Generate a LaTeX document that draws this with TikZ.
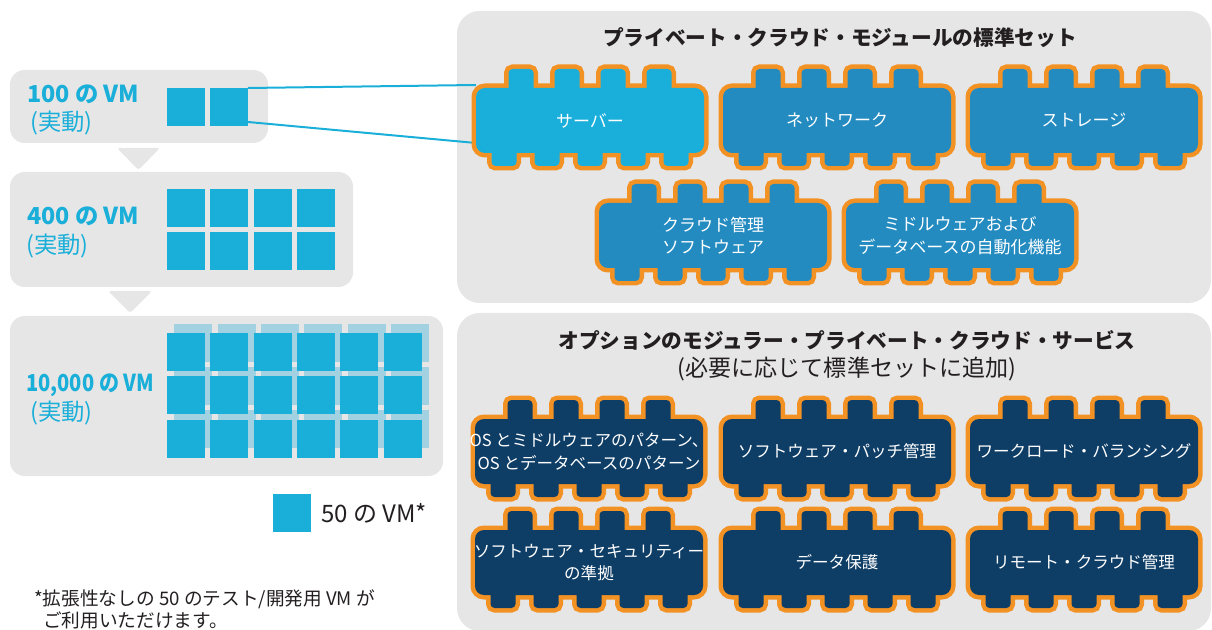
\documentclass[tikz,border=0pt]{standalone}
\usepackage{fontspec}
\usepackage{graphicx}
\setmainfont{Noto Sans CJK JP}
\definecolor{panel}{HTML}{E6E6E6}
\definecolor{vmc}{HTML}{1AAFD9}
\definecolor{vmback}{HTML}{A2D1E2}
\definecolor{orng}{HTML}{F39224}
\definecolor{srvc}{HTML}{1AAFDA}
\definecolor{stdc}{HTML}{238BC0}
\definecolor{optc}{HTML}{0E3D66}
\definecolor{txtd}{HTML}{231F20}
\newcommand\puzzlepath{[rounded corners=6.75pt] (4,4) rectangle (232,69)
 [rounded corners=3pt]
 (36.5,-15) rectangle (61.5,10) (82.5,-15) rectangle (107.5,10)
 (128.5,-15) rectangle (153.5,10) (174.5,-15) rectangle (199.5,10)
 (19.5,63) rectangle (44.5,82) (62.5,63) rectangle (87.5,82)
 (105.5,63) rectangle (130.5,82) (148.5,63) rectangle (173.5,82)
 (191.5,63) rectangle (216.5,82)}
\newcommand\puzzle[3]{%
 \begin{scope}[shift={(#1,#2)}]
  \path[draw=orng,fill=orng,line width=6.75pt] \puzzlepath;
  \path[fill=#3] \puzzlepath;
 \end{scope}}
\tikzset{
 vmsq/.style={fill=vmc, minimum size=28.5pt, inner sep=0pt, outer sep=0pt, anchor=north west},
 vmlab/.style={text=vmc, font=\fontsize{17.5}{20}\selectfont\bfseries, anchor=base west, inner sep=0pt},
 vmsub/.style={text=vmc, font=\fontsize{17.5}{20}\selectfont, anchor=base west, inner sep=0pt},
 ptext/.style={text=white, align=center, font=\fontsize{12.75}{17}\selectfont, inner sep=0pt},
 otext/.style={text=white, align=center, font=\fontsize{12.4}{17}\selectfont, inner sep=0pt},
 ttl/.style={text=txtd, font=\fontsize{15.5}{19}\selectfont\bfseries, inner sep=0pt},
 note/.style={text=txtd, font=\fontsize{14}{17}\selectfont, anchor=base west, inner sep=0pt},
 link/.style={draw=vmc, line width=1.5pt}
}
\begin{document}
\begin{tikzpicture}[x=0.75pt,y=-0.75pt]
\useasboundingbox (0,0) rectangle (1212,630);
% right panels
\fill[panel, rounded corners=17pt] (457,11) rectangle (1211,303);
\fill[panel, rounded corners=17pt] (457,313) rectangle (1211,631);
% left panels
\fill[panel, rounded corners=11pt] (10,70) rectangle (268,143);
\fill[panel, rounded corners=11pt] (10,172) rectangle (353,287);
\fill[panel, rounded corners=11pt] (10,316) rectangle (443,476);
\fill[panel, rounded corners=2pt] (117,148) -- (160,148) -- (138.5,170) -- cycle;
\fill[panel, rounded corners=2pt] (108,291) -- (152,291) -- (130,313) -- cycle;
% 100 VM
\node[vmsq] (s1a) at (167,88) {};
\node[vmsq] (s1b) at (210,88) {};
% 400 VM
\foreach \xx in {167,210,254,297}
 \foreach \yy in {189,232}
  \node[vmsq] (s4-\xx-\yy) at (\xx,\yy) {};
% 10000 VM
\foreach \xx in {174,218,261,304,348,391}
 \foreach \yy in {324,367,410}
  \fill[vmback] (\xx,\yy) rectangle ++(38,38);
\foreach \xx in {167,210,254,297,340,384}
 \foreach \yy in {333,376,420}
  \node[vmsq] (s10-\xx-\yy) at (\xx,\yy) {};
% labels
\node[vmlab] (l100) at (27,103) {100 の VM};
\node[vmsub] (r100) at (30,131) {(実動)};
\node[vmlab] (l400) at (27,225) {400 の VM};
\node[vmsub] (r400) at (26,254) {(実動)};
\node[vmlab] (l10k) at (26,392) {\scalebox{0.86}[1]{10,000 の VM}};
\node[vmsub] (r10k) at (30,420) {(実動)};
% legend
\node[vmsq] (leg) at (273,494) {};
\node[text=txtd, font=\fontsize{18}{20}\selectfont, anchor=base west, inner sep=0pt] (legt) at (321,522) {50 の VM*};
\node[note] (fn1) at (34,605) {*拡張性なしの 50 のテスト/開発用 VM が};
\node[note] (fn2) at (43,627) {ご利用いただけます。};
% connectors
\coordinate (srvA) at (476,85);
\coordinate (srvB) at (476,143);
\draw[link] (s1b.north east) -- (srvA);
\draw[link] ([yshift=3pt]s1b.south east) -- (srvB);
% titles
\node[ttl] (t1) at (840,38) {プライベート・クラウド・モジュールの標準セット};
\node[ttl] (t2) at (847,340) {オプションのモジュラー・プライベート・クラウド・サービス};
\node[text=txtd, font=\fontsize{17.3}{20}\selectfont, inner sep=0pt] (t3) at (847,369) {(必要に応じて標準セットに追加)};
% standard pieces
\puzzle{472}{84}{srvc}
\puzzle{719}{84}{stdc}
\puzzle{966}{84}{stdc}
\puzzle{595}{199}{stdc}
\puzzle{842}{199}{stdc}
\node[ptext] (p1) at (590,120.5) {サーバー};
\node[ptext] (p2) at (837,120.5) {ネットワーク};
\node[ptext] (p3) at (1084,120.5) {ストレージ};
\node[ptext] (p4) at (713,235.5) {クラウド管理\\ソフトウェア};
\node[ptext] (p5) at (960,235.5) {ミドルウェアおよび\\データベースの自動化機能};
% optional pieces
\puzzle{471}{415}{optc}
\puzzle{719}{415}{optc}
\puzzle{966}{415}{optc}
\puzzle{471}{526}{optc}
\puzzle{719}{526}{optc}
\puzzle{966}{526}{optc}
\node[otext] (o1) at (589,451.5) {OS とミドルウェアのパターン、\\OS とデータベースのパターン};
\node[otext] (o2) at (837,451.5) {ソフトウェア・パッチ管理};
\node[otext] (o3) at (1084,451.5) {ワークロード・バランシング};
\node[otext] (o4) at (589,562.5) {ソフトウェア・セキュリティー\\の準拠};
\node[otext] (o5) at (837,562.5) {データ保護};
\node[otext] (o6) at (1084,562.5) {リモート・クラウド管理};
\end{tikzpicture}
\end{document}
